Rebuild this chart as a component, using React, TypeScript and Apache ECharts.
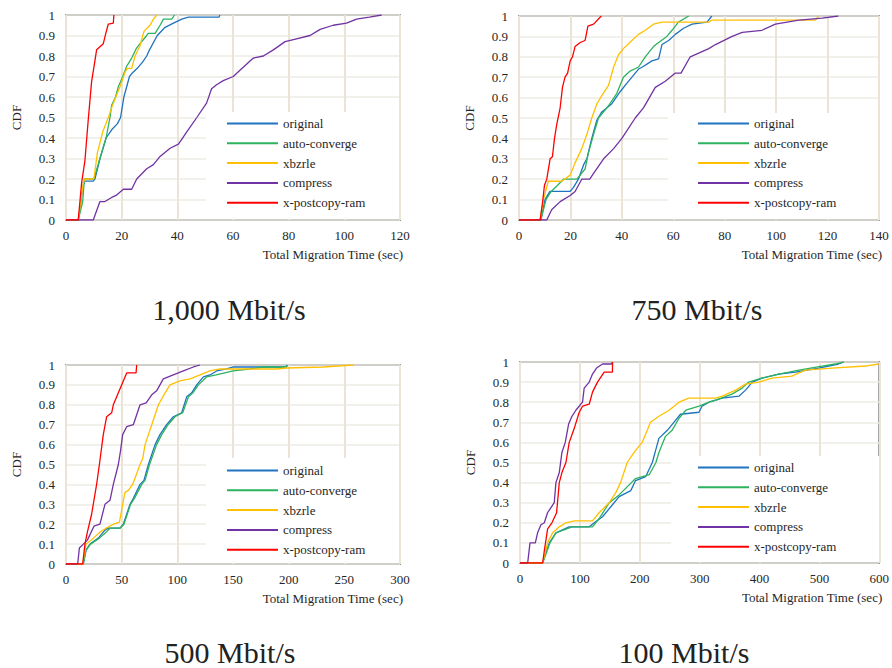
import React, { useEffect, useRef } from "react";
import * as echarts from "echarts";

type Pt = [number, number];

const SERIES_NAMES = ["original", "auto-converge", "xbzrle", "compress", "x-postcopy-ram"];
const SERIES_COLORS = ["#1f73c0", "#2bb35e", "#ffc000", "#7133a3", "#ff0000"];
const Y_TICKS_MAX = 1;
const PANEL_TITLES = ["1,000 Mbit/s", "750 Mbit/s", "500 Mbit/s", "100 Mbit/s"];
const X_MAXES = [120, 140, 300, 600];
const X_INTERVALS = [20, 20, 50, 100];
const X_NAME = "Total Migration Time (sec)";
const Y_NAME = "CDF";

// ---- 1,000 Mbit/s ----
const p1000Original: Pt[] = [[0,0],[4.4,0],[6.2,0.17],[6.8,0.19],[9.8,0.19],[10.4,0.2],[12.2,0.3],[14.4,0.4],[16.4,0.44],[18.5,0.47],[19.6,0.5],[20.8,0.6],[22.8,0.7],[24,0.72],[25.6,0.74],[27.5,0.77],[29,0.8],[30,0.83],[32.8,0.9],[35.6,0.94],[38.6,0.96],[41.6,0.98],[44,0.99],[55,0.99],[55.3,1]];
const p1000Auto: Pt[] = [[0,0],[4.4,0],[6.0,0.09],[6.6,0.2],[10,0.2],[12.2,0.3],[14.4,0.4],[15.8,0.5],[16.4,0.56],[17.8,0.6],[18.8,0.65],[20.4,0.7],[21.8,0.75],[23.6,0.79],[25.4,0.84],[26.6,0.86],[29,0.9],[29.5,0.91],[32,0.91],[33.8,0.95],[35,0.98],[38,0.98],[39,1]];
const p1000Xbzrle: Pt[] = [[0,0],[4.4,0],[6.2,0.18],[6.8,0.2],[10,0.2],[11.3,0.33],[13.2,0.43],[15.2,0.5],[17,0.57],[19.4,0.65],[21.2,0.72],[22,0.74],[23.6,0.74],[24.8,0.8],[26.6,0.85],[28,0.92],[30.2,0.95],[31.4,0.98],[32.6,1]];
const p1000Compress: Pt[] = [[0,0],[9.8,0],[12.2,0.09],[14,0.09],[16.4,0.11],[18,0.12],[20.6,0.15],[23.6,0.15],[25.4,0.2],[29,0.25],[31.4,0.27],[33.8,0.31],[37.4,0.35],[40.4,0.37],[43.4,0.43],[47,0.5],[50.5,0.57],[52.3,0.64],[54.1,0.66],[56.5,0.68],[60.1,0.7],[62.5,0.73],[67.3,0.79],[70.9,0.8],[74.5,0.83],[78.7,0.87],[81.7,0.88],[87.7,0.9],[91.3,0.93],[96,0.95],[100.8,0.96],[104.4,0.98],[109,0.99],[113.4,1]];
const p1000Postcopy: Pt[] = [[0,0],[4.4,0],[5.6,0.18],[6.8,0.29],[8,0.49],[9.2,0.675],[10.2,0.76],[11,0.83],[12.2,0.845],[13.4,0.86],[14.3,0.91],[15.2,0.956],[17,0.96],[17.2,1]];

// ---- 750 Mbit/s ----
const p750Original: Pt[] = [[0,0],[8.5,0],[10.1,0.1],[12,0.14],[19.9,0.14],[21.2,0.16],[23.1,0.2],[25.1,0.27],[26.4,0.3],[28.3,0.4],[30.3,0.49],[32.2,0.53],[36.1,0.57],[39.4,0.63],[41.9,0.67],[46.5,0.74],[48,0.75],[51.7,0.78],[54.3,0.79],[55.6,0.86],[58.2,0.88],[60.8,0.91],[64,0.94],[67.3,0.96],[73.1,0.97],[75,1]];
const p750Auto: Pt[] = [[0,0],[8.5,0],[10.5,0.1],[12.5,0.14],[15,0.17],[17.3,0.2],[22.5,0.2],[25.7,0.25],[27,0.33],[29,0.42],[30.9,0.5],[34.8,0.56],[38,0.62],[40.6,0.7],[43.2,0.73],[46.5,0.75],[49.1,0.8],[52.3,0.85],[54.3,0.87],[57.5,0.9],[59.5,0.93],[62,0.97],[66,1]];
const p750Xbzrle: Pt[] = [[0,0],[8.2,0],[9.5,0.1],[11.4,0.19],[16.6,0.19],[19.9,0.22],[21.8,0.28],[24.4,0.35],[26.4,0.42],[28.3,0.5],[30.3,0.57],[32.2,0.61],[34.8,0.66],[36.8,0.75],[38.7,0.81],[40.6,0.84],[43.9,0.88],[46.5,0.91],[49.1,0.93],[52.3,0.96],[55.6,0.97],[73.8,0.97],[75,0.98],[115.3,0.98],[116.4,1]];
const p750Compress: Pt[] = [[0,0],[10.8,0],[12.7,0.05],[16,0.09],[19.9,0.12],[21.8,0.14],[24.4,0.2],[27.5,0.2],[29.6,0.24],[32.9,0.3],[36.8,0.35],[40,0.4],[45.2,0.5],[48.4,0.55],[53,0.65],[56.9,0.68],[60.8,0.72],[63,0.72],[66.6,0.8],[73.8,0.84],[76.4,0.86],[82.9,0.9],[86.8,0.92],[94.5,0.93],[99.7,0.96],[108.8,0.98],[117.9,0.99],[124.2,1]];
const p750Postcopy: Pt[] = [[0,0],[8.2,0],[9.1,0.08],[9.9,0.17],[10.8,0.2],[12.1,0.3],[13,0.31],[13.8,0.4],[14.7,0.47],[16,0.55],[16.9,0.65],[17.9,0.7],[18.9,0.72],[19.9,0.78],[20.8,0.8],[21.8,0.85],[23.8,0.87],[25.7,0.88],[26.8,0.95],[29,0.96],[32,1]];

// ---- 500 Mbit/s ----
const p500Original: Pt[] = [[0,0],[15.5,0],[18,0.07],[21.5,0.1],[29,0.13],[35,0.17],[38,0.18],[48.5,0.18],[51.5,0.2],[54.5,0.25],[57.5,0.3],[60.5,0.33],[66.5,0.4],[70,0.42],[74,0.5],[80,0.6],[84.4,0.65],[90.4,0.7],[96.4,0.74],[103.9,0.76],[108.4,0.84],[112.9,0.86],[117.4,0.9],[123.4,0.94],[129.3,0.95],[135.3,0.97],[144.3,0.98],[150.3,0.99],[198,0.99],[198.5,1]];
const p500Auto: Pt[] = [[0,0],[15.5,0],[18,0.07],[22,0.1],[30,0.13],[36,0.16],[39.5,0.18],[48.5,0.18],[52,0.2],[55,0.25],[58,0.3],[61.5,0.33],[68,0.4],[71,0.42],[75,0.5],[81.4,0.6],[86,0.65],[91.6,0.7],[97.9,0.74],[104.8,0.76],[110,0.84],[114,0.86],[118.9,0.9],[126.3,0.94],[135,0.95],[150,0.97],[165,0.98],[177,0.99],[198,0.99],[199,1]];
const p500Xbzrle: Pt[] = [[0,0],[15,0],[18,0.1],[24.6,0.13],[30.5,0.16],[36,0.18],[42.5,0.2],[48,0.21],[50.9,0.3],[53,0.36],[56,0.37],[59.9,0.4],[66.5,0.5],[68.9,0.53],[71,0.6],[77,0.7],[83,0.8],[89,0.86],[93.4,0.9],[102.4,0.92],[111.4,0.93],[120.4,0.95],[129.3,0.97],[138.3,0.98],[189,0.98],[198,0.985],[231,0.99],[258,1]];
const p500Compress: Pt[] = [[0,0],[10.5,0],[12,0.08],[15.6,0.1],[19.2,0.12],[25.1,0.19],[30.5,0.2],[35,0.3],[39.5,0.32],[42.5,0.4],[47,0.5],[49,0.57],[50.9,0.65],[54.5,0.69],[60.5,0.7],[66.5,0.8],[72,0.81],[77,0.85],[81.4,0.87],[87.4,0.93],[96.4,0.95],[105.4,0.97],[114.4,0.99],[120.4,1]];
const p500Postcopy: Pt[] = [[0,0],[15,0],[17,0.1],[19.2,0.16],[23,0.25],[27.5,0.4],[30,0.5],[33.5,0.65],[36.5,0.74],[41,0.76],[42.5,0.8],[47,0.86],[51.5,0.92],[54.5,0.96],[62.9,0.96],[63.5,1]];

// ---- 100 Mbit/s ----
const p100Original: Pt[] = [[0,0],[37.8,0],[43,0.05],[49,0.1],[60,0.15],[82,0.18],[115.6,0.18],[124,0.2],[137.8,0.23],[151.7,0.28],[165.6,0.33],[185,0.36],[193,0.41],[210,0.43],[221,0.5],[225.6,0.55],[232,0.62],[246,0.66],[257,0.7],[268,0.74],[298.9,0.75],[304,0.78],[315.6,0.8],[337.8,0.82],[365.6,0.83],[376.7,0.86],[388,0.9],[404,0.92],[432,0.94],[460,0.95],[498.9,0.97],[532,0.99],[540.6,1]];
const p100Auto: Pt[] = [[0,0],[37.8,0],[44,0.05],[50,0.1],[60,0.15],[87,0.18],[121,0.18],[132,0.22],[149,0.3],[166,0.34],[193,0.42],[216,0.44],[227,0.5],[232,0.55],[243,0.63],[254,0.66],[265.6,0.72],[277,0.76],[299,0.78],[315.6,0.8],[327,0.81],[354,0.84],[371,0.87],[382,0.9],[404,0.92],[432,0.94],[466,0.96],[504.4,0.98],[526.7,0.99],[540.6,1]];
const p100Xbzrle: Pt[] = [[0,0],[37.8,0],[46,0.1],[54.4,0.15],[65.6,0.18],[76.7,0.2],[90.6,0.21],[121,0.21],[132,0.25],[149,0.3],[160,0.35],[168,0.4],[179,0.5],[190.5,0.55],[204,0.6],[218,0.7],[232,0.73],[249,0.76],[265.6,0.8],[282,0.82],[326.7,0.82],[337.8,0.83],[360,0.86],[376.7,0.89],[398.9,0.9],[421,0.92],[454,0.93],[476.7,0.96],[521,0.97],[576.7,0.98],[598.9,0.99]];
const p100Compress: Pt[] = [[0,0],[12.8,0],[16.7,0.1],[25.6,0.1],[29.4,0.15],[35,0.19],[40.6,0.2],[46,0.25],[57.2,0.3],[60,0.4],[65.6,0.45],[70,0.55],[75.6,0.6],[81.1,0.69],[86.7,0.73],[93.3,0.76],[104.4,0.8],[107.2,0.87],[115.6,0.9],[121.1,0.94],[127.8,0.97],[137.8,0.99],[152.8,0.99],[154.4,1]];
const p100Postcopy: Pt[] = [[0,0],[37.8,0],[40.6,0.06],[46.1,0.17],[53.3,0.2],[61.1,0.25],[65.6,0.4],[70,0.45],[76.7,0.5],[82.2,0.6],[90.6,0.67],[98.9,0.75],[104.4,0.78],[115.6,0.79],[121.1,0.85],[129.4,0.9],[140.6,0.95],[154.4,0.95],[154.6,1]];

const PANEL_DATA: Pt[][][] = [
  [p1000Original, p1000Auto, p1000Xbzrle, p1000Compress, p1000Postcopy],
  [p750Original, p750Auto, p750Xbzrle, p750Compress, p750Postcopy],
  [p500Original, p500Auto, p500Xbzrle, p500Compress, p500Postcopy],
  [p100Original, p100Auto, p100Xbzrle, p100Compress, p100Postcopy],
];

// ---- layout (positions / sizes only) ----
const FONT = "Liberation Serif";
const TEXT_COLOR = "#262626";
const LAYOUT = [
  { grid: { left: 66, top: 15, width: 334, height: 205 }, legend: { left: 227, top: 116 }, box: [206, 112, 193, 107], title: [229, 309] },
  { grid: { left: 519, top: 16, width: 360, height: 204 }, legend: { left: 698, top: 116 }, box: [668, 113, 210, 106], title: [697, 309] },
  { grid: { left: 66, top: 365, width: 334, height: 199 }, legend: { left: 227, top: 463 }, box: [206, 458, 193, 105], title: [230, 652] },
  { grid: { left: 520, top: 362, width: 360, height: 201 }, legend: { left: 698, top: 460 }, box: [671, 456, 208, 106], title: [684, 652] },
];

function yLabel(v: number): string {
  const r = Math.round(v * 10) / 10;
  if (r === 0) return "0";
  if (r === 1) return "1";
  return r.toFixed(1);
}

function buildOption(): echarts.EChartsCoreOption {
  const grids = LAYOUT.map((l) => ({
    ...l.grid,
    show: true,
    borderColor: "#4d4d4d",
    borderWidth: 1.5,
    backgroundColor: "transparent",
    containLabel: false,
  }));
  const xAxes = LAYOUT.map((_, i) => ({
    type: "value",
    gridIndex: i,
    min: 0,
    max: X_MAXES[i],
    interval: X_INTERVALS[i],
    name: X_NAME,
    nameLocation: "end",
    nameGap: 0,
    nameTextStyle: {
      fontFamily: FONT,
      fontSize: 13,
      color: TEXT_COLOR,
      align: "right",
      verticalAlign: "top",
      padding: [28, -3, 0, 0],
    },
    axisLine: { show: false },
    axisTick: { show: false },
    axisLabel: { fontFamily: FONT, fontSize: 13, color: TEXT_COLOR, margin: 9 },
    splitLine: { show: true, lineStyle: { color: "#e9e4d5", width: 2 } },
  }));
  const yAxes = LAYOUT.map((_, i) => ({
    type: "value",
    gridIndex: i,
    min: 0,
    max: Y_TICKS_MAX,
    interval: 0.1,
    name: Y_NAME,
    nameLocation: "middle",
    nameGap: 43,
    nameTextStyle: { fontFamily: FONT, fontSize: 13, color: TEXT_COLOR },
    axisLine: { show: false },
    axisTick: { show: false },
    axisLabel: { fontFamily: FONT, fontSize: 13, color: TEXT_COLOR, margin: 11, formatter: yLabel },
    splitLine: { show: true, lineStyle: { color: "#eeebe3", width: 1.5 } },
  }));
  const series: any[] = [];
  PANEL_DATA.forEach((panel, i) => {
    panel.forEach((data, k) => {
      series.push({
        type: "line",
        name: SERIES_NAMES[k],
        xAxisIndex: i,
        yAxisIndex: i,
        data,
        symbol: "none",
        showSymbol: false,
        smooth: false,
        z: 3,
        lineStyle: { width: 1.3, color: SERIES_COLORS[k] },
        itemStyle: { color: SERIES_COLORS[k] },
      });
    });
  });
  const legends = LAYOUT.map((l) => ({
    left: l.legend.left,
    top: l.legend.top,
    orient: "vertical",
    data: SERIES_NAMES.map((n, k) => ({ name: n, itemStyle: { color: SERIES_COLORS[k] } })),
    icon: "rect",
    itemWidth: 51,
    itemHeight: 2,
    itemGap: 4.8,
    padding: 0,
    selectedMode: false,
    textStyle: { fontFamily: FONT, fontSize: 13, color: TEXT_COLOR, lineHeight: 15 },
  }));
  const graphics: any[] = [];
  LAYOUT.forEach((l, i) => {
    graphics.push({
      type: "rect",
      z: 1,
      silent: true,
      shape: { x: l.box[0], y: l.box[1], width: l.box[2], height: l.box[3] },
      style: { fill: "#ffffff" },
    });
    graphics.push({
      type: "text",
      z: 5,
      x: l.title[0],
      y: l.title[1],
      style: {
        text: PANEL_TITLES[i],
        fontFamily: FONT,
        fontSize: 30,
        fill: "#222222",
        align: "center",
        verticalAlign: "middle",
      },
    });
  });
  return {
    animation: false,
    backgroundColor: "#ffffff",
    grid: grids,
    xAxis: xAxes,
    yAxis: yAxes,
    legend: legends,
    series,
    graphic: graphics,
  };
}

export default function App() {
  const ref = useRef<HTMLDivElement>(null);
  useEffect(() => {
    document.body.style.margin = "0";
    if (!ref.current) return;
    const chart = echarts.init(ref.current, undefined, { renderer: "svg" });
    chart.setOption(buildOption());
    return () => {
      chart.dispose();
    };
  }, []);
  return (
    <div
      ref={ref}
      style={{ position: "absolute", left: 0, top: 0, width: 892, height: 668, background: "#fff" }}
    />
  );
}
